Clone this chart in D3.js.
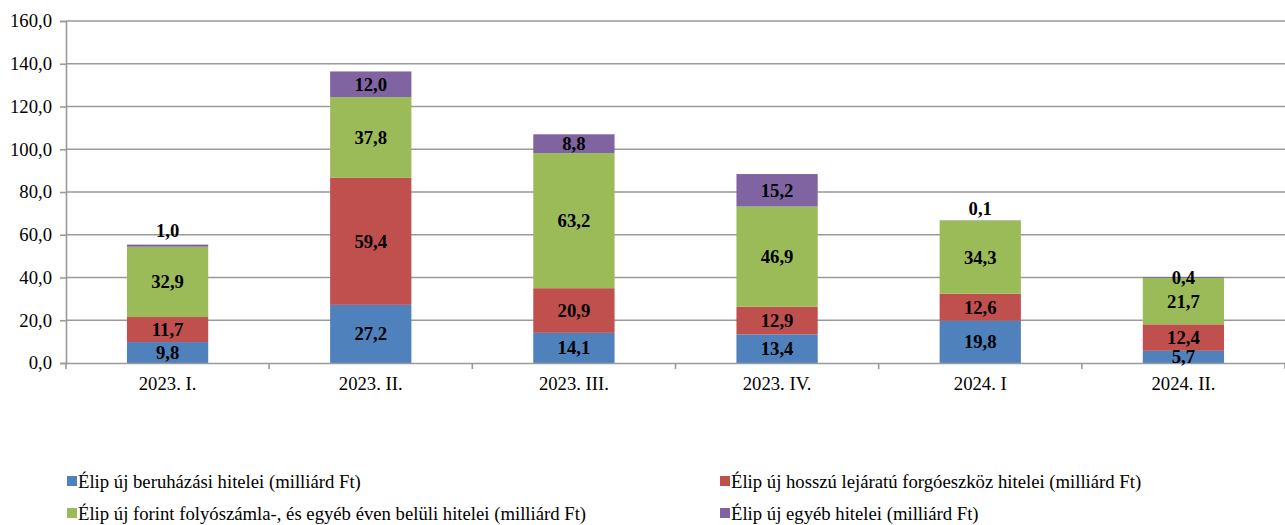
<html>
<head>
<meta charset="utf-8">
<script src="https://cdn.jsdelivr.net/npm/d3@7"></script>
<style>
  body{margin:0;background:#fff;}
</style>
</head>
<body>
<script>
// adatok
var categories=["2023. I.","2023. II.","2023. III.","2023. IV.","2024. I","2024. II."];
var beruhazasi=[9.8,27.2,14.1,13.4,19.8,5.7];
var forgoeszkoz=[11.7,59.4,20.9,12.9,12.6,12.4];
var folyoszamla=[32.9,37.8,63.2,46.9,34.3,21.7];
var egyeb=[1.0,12.0,8.8,15.2,0.1,0.4];
var seriesNames=["Élip új beruházási hitelei (milliárd Ft)",
  "Élip új hosszú lejáratú forgóeszköz hitelei (milliárd Ft)",
  "Élip új forint folyószámla-, és egyéb éven belüli hitelei (milliárd Ft)",
  "Élip új egyéb hitelei (milliárd Ft)"];
var yTicks=[0,20,40,60,80,100,120,140,160];

var colors=["#4F81BD","#C0504D","#9BBB59","#8064A2"];
var FONT="Liberation Serif", FS="18.7px";
// kis cimkek eltolasa felfele (px), csak a lila sorozatnal
var purpleLift=[15,0,0,0,12,0];

var margin={top:21,left:66,right:0,bottom:162},
    width=1285-margin.left-margin.right,
    height=525-margin.top-margin.bottom;

var svg=d3.select("body").append("svg")
  .attr("width",1285).attr("height",525);
var g=svg.append("g").attr("transform","translate("+margin.left+","+margin.top+")");

var x=d3.scaleBand().domain(categories).range([0,width]).paddingInner(0.6).paddingOuter(0.3);
var y=d3.scaleLinear().domain([0,160]).range([height,0]);

var fmt=function(v){return d3.format(".1f")(v).replace(".",",");};

// racsvonalak
g.append("g").selectAll("line").data(yTicks.slice(1)).enter().append("line")
  .attr("x1",0).attr("x2",width)
  .attr("y1",function(d){return y(d);}).attr("y2",function(d){return y(d);})
  .attr("stroke","#9a9a9a").attr("stroke-width",1.6);

var table=categories.map(function(c,i){
  return {cat:c,s0:beruhazasi[i],s1:forgoeszkoz[i],s2:folyoszamla[i],s3:egyeb[i]};
});
var stack=d3.stack().keys(["s0","s1","s2","s3"])(table);

var layers=g.selectAll(".layer").data(stack).enter().append("g")
  .attr("fill",function(d,i){return colors[i];});
layers.selectAll("rect").data(function(d){return d;}).enter().append("rect")
  .attr("x",function(d){return x(d.data.cat);})
  .attr("width",x.bandwidth())
  .attr("y",function(d){return y(d[1]);})
  .attr("height",function(d){return y(d[0])-y(d[1]);});

// tengelyek
var yAxis=g.append("g").call(d3.axisLeft(y).tickValues(yTicks).tickFormat(fmt).tickSizeOuter(0).tickSize(6).tickPadding(8));
var step=x.step();
var xAxis=g.append("g").attr("transform","translate(0,"+height+")")
  .call(d3.axisBottom(x).tickSize(0).tickPadding(14).tickSizeOuter(0));
xAxis.selectAll(".tick line").remove();
xAxis.append("g").selectAll("line").data(d3.range(categories.length+1)).enter().append("line")
  .attr("x1",function(d){return d*step;}).attr("x2",function(d){return d*step;})
  .attr("y1",0).attr("y2",6).attr("stroke","#9a9a9a").attr("stroke-width",1.6);
[yAxis,xAxis].forEach(function(a){
  a.selectAll(".tick text").attr("fill","#000")
    .style("font-family",FONT).style("font-size",FS);
  a.select(".domain").attr("stroke","#9a9a9a").attr("stroke-width",1.6);
  a.selectAll(".tick line").attr("stroke","#9a9a9a").attr("stroke-width",1.6);
});

// cimkek
stack.forEach(function(s,si){
  g.append("g").selectAll("text").data(s).enter().append("text")
    .style("font-family",FONT).style("font-size",FS).style("font-weight","bold")
    .attr("text-anchor","middle")
    .attr("x",function(d){return x(d.data.cat)+x.bandwidth()/2;})
    .attr("y",function(d,i){
      var c=(y(d[0])+y(d[1]))/2;
      if(si===3) c-=purpleLift[i];
      return c;})
    .attr("dy","0.35em")
    .text(function(d){return fmt(d[1]-d[0]);});
});

// jelmagyarazat
var legPos=[[67,481],[720,481],[67,513],[720,513]];
var leg=svg.append("g");
seriesNames.forEach(function(n,i){
  var it=leg.append("g").attr("transform","translate("+legPos[i][0]+","+legPos[i][1]+")");
  it.append("rect").attr("x",0).attr("y",-5).attr("width",10).attr("height",10).attr("fill",colors[i]);
  it.append("text").attr("x",11).attr("y",0).attr("dy","0.35em")
    .style("font-family",FONT).style("font-size",FS).text(n);
});
</script>
</body>
</html>
